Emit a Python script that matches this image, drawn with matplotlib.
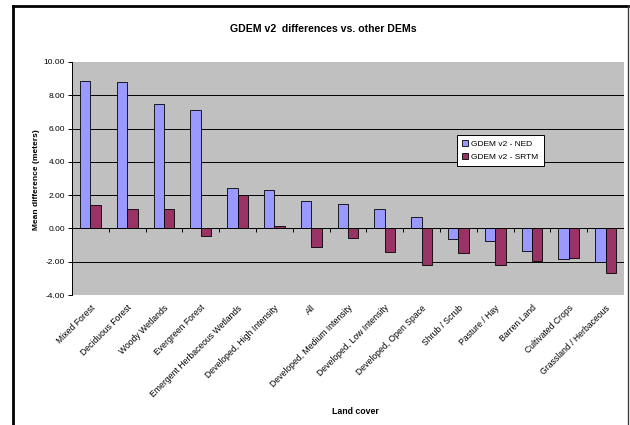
import numpy as np
import matplotlib
matplotlib.use("Agg")
import matplotlib.pyplot as plt
from matplotlib.lines import Line2D

plt.rcParams['font.family'] = ['Liberation Sans', 'DejaVu Sans']

# mean difference (meters) per land cover class
land_cover = ["Mixed Forest", "Deciduous Forest", "Woody Wetlands", "Evergreen Forest",
              "Emergent Herbaceous Wetlands", "Developed, High Intensity", "All",
              "Developed, Medium Intensity", "Developed, Low Intensity",
              "Developed, Open Space", "Shrub / Scrub", "Pasture / Hay",
              "Barren Land", "Cultivated Crops", "Grassland / Herbaceous"]
diff_ned = [8.84, 8.80, 7.50, 7.12, 2.45, 2.31, 1.67, 1.45, 1.15, 0.68,
            -0.66, -0.78, -1.35, -1.85, -1.99]
diff_srtm = [1.39, 1.17, 1.17, -0.44, 1.99, 0.12, -1.10, -0.58, -1.39, -2.17,
             -1.45, -2.17, -1.95, -1.75, -2.65]
yticks = [-4, -2, 0, 2, 4, 6, 8, 10]

fig = plt.figure(figsize=(6.3, 4.25), dpi=100)
ax = fig.add_axes([72/630, 1-295/425, 552/630, 233/425])
ax.set_facecolor("#C0C0C0")

x = np.arange(len(land_cover))
w = 0.28
ax.bar(x - w/2, diff_ned, w, color="#9999FF", edgecolor="black", linewidth=0.6,
       label="GDEM v2 - NED", zorder=3)
ax.bar(x + w/2, diff_srtm, w, color="#993366", edgecolor="black", linewidth=0.6,
       label="GDEM v2 - SRTM", zorder=3)

ax.set_xlim(-0.5, len(land_cover) - 0.5)
ax.set_ylim(-4, 10)
ax.set_yticks(yticks)
ax.set_yticklabels(["%.2f" % v for v in yticks], fontsize=6)
for v in yticks[1:-1]:
    ax.axhline(v, color="black", lw=0.7, zorder=1)
ax.axhline(0, color="black", lw=0.7, zorder=4)
# category separator ticks on the zero line
ax.vlines(x[1:] - 0.5, -0.2, 0, color="black", lw=0.7, zorder=4)

ax.set_xticks(x)
ax.set_xticklabels(land_cover, rotation=45, ha="right", rotation_mode="anchor",
                   fontsize=6.2)
ax.tick_params(axis="x", length=0, pad=6)
ax.tick_params(axis="y", length=3, width=0.7, pad=2)
for s in ["top", "right"]:
    ax.spines[s].set_visible(False)
ax.spines["bottom"].set_visible(False)
ax.spines["left"].set_linewidth(0.7)

fig.text(323/630, 1-29/425, "GDEM v2  differences vs. other DEMs", ha="center",
         va="center", fontsize=7.6, fontweight="bold")
fig.text(37/630, 1-180/425, "Mean difference (meters)", rotation=90, ha="center",
         va="center", fontsize=6, fontweight="bold")
fig.text(355/630, 1-412/425, "Land cover", ha="center", va="center",
         fontsize=6.3, fontweight="bold")

leg = ax.legend(loc="upper left", bbox_to_anchor=((453-72)/552, (295-131)/233),
                fontsize=6, frameon=True, fancybox=False, handlelength=0.7,
                handleheight=0.7, handletextpad=0.4, borderpad=0.6,
                labelspacing=0.6, framealpha=1)
leg.get_frame().set_edgecolor("black")
leg.get_frame().set_linewidth(0.7)

# outer chart frame
fig.add_artist(Line2D([13/630, 13/630], [0, 1-5.5/425], color="black", lw=2,
                      transform=fig.transFigure))
fig.add_artist(Line2D([13/630, 628/630], [1-5.5/425, 1-5.5/425], color="black",
                      lw=2, transform=fig.transFigure))
fig.add_artist(Line2D([628/630, 628/630], [0, 1-5.5/425], color="#404040",
                      lw=1, transform=fig.transFigure))

fig.savefig("out.png", dpi=100)
